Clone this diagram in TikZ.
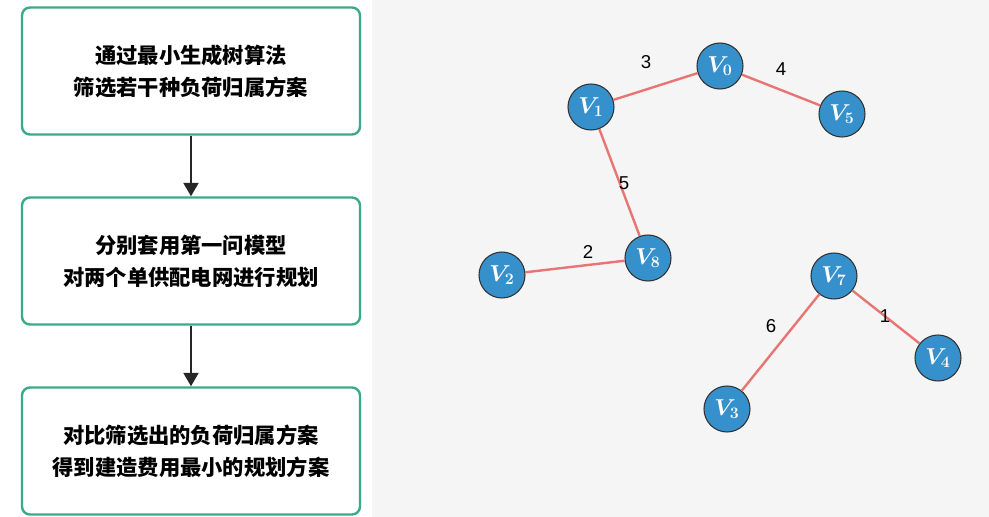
\documentclass[tikz,border=0pt]{standalone}
\usepackage{amsmath,bm}
\usepackage{fontspec}
\setsansfont{Liberation Sans}
\newfontfamily\cjk{Noto Sans CJK SC}
\usetikzlibrary{arrows.meta}
\definecolor{grn}{HTML}{3BAA8A}
\definecolor{nblue}{HTML}{3590CC}
\definecolor{edg}{HTML}{E87474}
\tikzset{
  x=0.0264cm,y=-0.0264cm,
  stepbox/.style={draw=grn,line width=1.8pt,rounded corners=6pt,fill=white,minimum width=338*0.0264cm,minimum height=127*0.0264cm,align=center,font=\cjk\bfseries\fontsize{16}{24}\selectfont},
  arr/.style={-{Triangle[length=10pt,width=11pt]},line width=2pt,black!85},
  vx/.style={circle,draw=black!80,line width=0.8pt,fill=nblue,minimum size=46*0.0264cm,inner sep=0pt,text=white,font=\fontsize{17}{17}\selectfont},
  ed/.style={draw=edg,line width=1.8pt},
  wl/.style={font=\sffamily\fontsize{14}{14}\selectfont}
}
\begin{document}
\begin{tikzpicture}
\useasboundingbox (0,0) rectangle (989,517);
\fill[gray!8] (372,0) rectangle (989,517);
\fill[white] (0,0) rectangle (372,517);
\node[stepbox] (b1) at (191,71) {通过最小生成树算法\\筛选若干种负荷归属方案};
\node[stepbox] (b2) at (191,261) {分别套用第一问模型\\对两个单供配电网进行规划};
\node[stepbox] (b3) at (191,451) {对比筛选出的负荷归属方案\\得到建造费用最小的规划方案};
\draw[arr] (b1) -- (b2);
\draw[arr] (b2) -- (b3);
\node[vx] (v0) at (720,66) {$\bm{V_0}$};
\node[vx] (v1) at (591,107) {$\bm{V_1}$};
\node[vx] (v5) at (842,114) {$\bm{V_5}$};
\node[vx] (v8) at (648,258) {$\bm{V_8}$};
\node[vx] (v2) at (502,275) {$\bm{V_2}$};
\node[vx] (v7) at (834,276) {$\bm{V_7}$};
\node[vx] (v4) at (938,358) {$\bm{V_4}$};
\node[vx] (v3) at (727,409) {$\bm{V_3}$};
\draw[ed] (v1) -- (v0);
\draw[ed] (v0) -- (v5);
\draw[ed] (v1) -- (v8);
\draw[ed] (v2) -- (v8);
\draw[ed] (v7) -- (v3);
\draw[ed] (v7) -- (v4);
\node[wl] (l3) at (646,62) {3};
\node[wl] (l4) at (781,69) {4};
\node[wl] (l5) at (624,183) {5};
\node[wl] (l2) at (588,252) {2};
\node[wl] (l6) at (771,326) {6};
\node[wl] (l1) at (885,316) {1};
\end{tikzpicture}
\end{document}
